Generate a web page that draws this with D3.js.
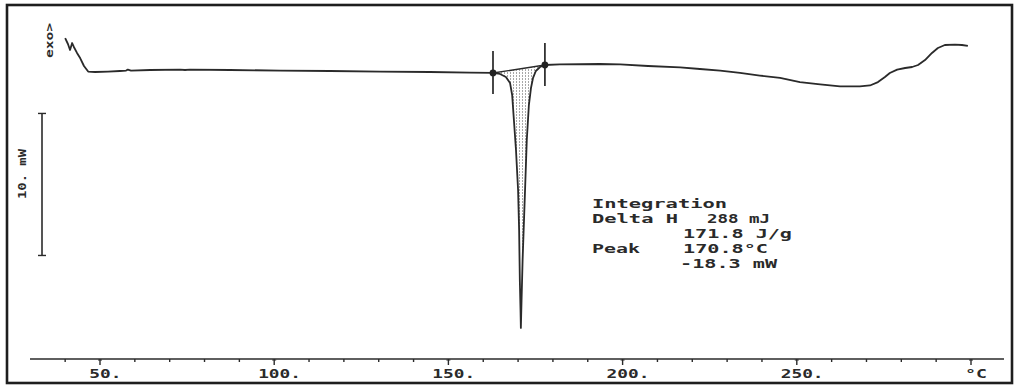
<!DOCTYPE html>
<html>
<head>
<meta charset="utf-8">
<script src="https://cdn.jsdelivr.net/npm/d3@7"></script>
<style>
  html, body { margin: 0; padding: 0; background: #fff; }
  svg { display: block; }
</style>
</head>
<body>
<svg id="dsc" width="1016" height="386"></svg>
<script>
// DSC trace: temperature (°C) and heat flow (mW)
const temperature = [
  40.0, 40.8, 41.4, 42.0, 42.5, 43.4, 44.3, 45.4, 46.6, 48.6, 52.3, 55.7, 57.5, 58.0, 58.9,
  64.4, 73.0, 74.4, 75.8, 87.3, 101.7, 116.0, 130.4, 144.7, 156.2,
  162.8, 164.8, 166.5, 167.7, 168.3, 168.8, 169.4, 170.0, 170.3, 170.5, 170.7, 170.8,
  171.0, 171.3, 171.7, 172.1, 172.5, 173.1, 173.7, 174.3, 175.1, 176.3, 177.7,
  182.0, 193.5, 199.3, 207.3, 216.5, 222.2, 228.0, 233.7, 239.4, 245.2, 250.9, 256.7,
  262.4, 268.1, 271.0, 273.3, 275.3, 276.7, 278.8, 281.1, 283.1, 284.8, 286.8, 288.8,
  290.5, 292.5, 295.4, 297.4, 299.1
];
const heatFlow = [
  2.11, 1.69, 1.27, 1.76, 1.48, 1.06, 0.70, 0.14, -0.25, -0.28, -0.25, -0.21, -0.18, -0.11, -0.18,
  -0.14, -0.11, -0.14, -0.11, -0.14, -0.18, -0.21, -0.25, -0.28, -0.32,
  -0.35, -0.42, -0.63, -1.06, -1.90, -3.66, -5.77, -8.59, -11.41, -14.93, -17.04, -18.3,
  -16.34, -13.52, -10.70, -7.89, -5.07, -2.61, -1.41, -0.70, -0.21, 0.07, 0.21,
  0.25, 0.28, 0.25, 0.14, 0.04, -0.07, -0.18, -0.35, -0.53, -0.70, -0.99, -1.16,
  -1.30, -1.30, -1.23, -0.99, -0.63, -0.35, -0.11, 0.00, 0.07, 0.21, 0.56, 1.06,
  1.41, 1.62, 1.65, 1.62, 1.55
];

// integration limits (°C) and their baseline heat flow (mW)
const integrationT = [162.8, 177.7];
const integrationMW = [-0.35, 0.21];

// axis ticks
const majorTicks = [50, 100, 150, 200, 250];
const majorLabels = ["50.", "100.", "150.", "200.", "250."];
const minorTicks = [40, 60, 70, 80, 90, 110, 120, 130, 140, 160, 170, 180, 190,
                    210, 220, 230, 240, 260, 270, 280, 290];
const unitTick = 300;

// 10 mW scale bar
const scaleBarMW = [-3.2, -13.2];

// result block
const resultLines = [
  { parts: [{ t: "Integration", x: 592, w: 135 }] },
  { parts: [{ t: "Delta H", x: 592, w: 86 }, { t: "288 mJ", x: 707, w: 63 }] },
  { parts: [{ t: "171.8 J/g", x: 683, w: 109 }] },
  { parts: [{ t: "Peak", x: 592, w: 48 }, { t: "170.8°C", x: 683, w: 85 }] },
  { parts: [{ t: "-18.3 mW", x: 680, w: 97 }] }
];

const svg = d3.select("#dsc");
const ink = "#2a2a2a";
const mono = "'DejaVu Sans Mono', 'Liberation Mono', monospace";

const x = d3.scaleLinear().domain([50, 300]).range([100, 971]);
const y = d3.scaleLinear().domain([0, -18.3]).range([68, 327.9]);

// outer frame
svg.append("rect")
  .attr("x", 7).attr("y", 5).attr("width", 1005).attr("height", 378)
  .attr("fill", "none").attr("stroke", "#1e1e1e").attr("stroke-width", 2.6);

// temperature axis
const axisY = 359;
svg.append("line")
  .attr("x1", 30).attr("x2", 1004).attr("y1", axisY).attr("y2", axisY)
  .attr("stroke", ink).attr("stroke-width", 1.6);

svg.selectAll(".minor").data(minorTicks).enter().append("line")
  .attr("x1", d => x(d)).attr("x2", d => x(d))
  .attr("y1", axisY).attr("y2", axisY + 3)
  .attr("stroke", ink).attr("stroke-width", 1.4);

svg.selectAll(".major").data(majorTicks.concat([unitTick])).enter().append("g")
  .each(function (d) {
    const g = d3.select(this);
    g.append("line")
      .attr("x1", x(d)).attr("x2", x(d))
      .attr("y1", axisY).attr("y2", axisY + 6)
      .attr("stroke", ink).attr("stroke-width", 1.4);
    g.append("line")
      .attr("x1", x(d) - 2).attr("x2", x(d) + 2)
      .attr("y1", axisY + 1).attr("y2", axisY + 1)
      .attr("stroke", ink).attr("stroke-width", 1);
  });

const charW = 10.7;
svg.selectAll(".tlabel").data(majorTicks).enter().append("text")
  .attr("x", (d, i) => x(d) - (majorLabels[i].length - 1) * charW / 2)
  .attr("y", 378)
  .attr("textLength", (d, i) => majorLabels[i].length * charW)
  .attr("lengthAdjust", "spacingAndGlyphs")
  .attr("font-family", mono).attr("font-weight", "bold").attr("font-size", 11.5)
  .attr("fill", ink)
  .text((d, i) => majorLabels[i]);

svg.append("text")
  .attr("x", x(unitTick) - 6).attr("y", 378)
  .attr("textLength", 22).attr("lengthAdjust", "spacingAndGlyphs")
  .attr("font-family", mono).attr("font-weight", "bold").attr("font-size", 11.5)
  .attr("fill", ink).text("°C");

// exo direction label
svg.append("text")
  .attr("transform", "translate(53,58) rotate(-90)")
  .attr("textLength", 35).attr("lengthAdjust", "spacingAndGlyphs")
  .attr("font-family", mono).attr("font-weight", "bold").attr("font-size", 10)
  .attr("fill", ink).text("exo>");

// 10 mW scale bar
const barX = 42;
svg.append("line")
  .attr("x1", barX).attr("x2", barX)
  .attr("y1", y(scaleBarMW[0])).attr("y2", y(scaleBarMW[1]))
  .attr("stroke", "#555").attr("stroke-width", 2);
scaleBarMW.forEach(v => {
  svg.append("line")
    .attr("x1", barX - 4).attr("x2", barX + 4)
    .attr("y1", y(v)).attr("y2", y(v))
    .attr("stroke", ink).attr("stroke-width", 1.4);
});
svg.append("text")
  .attr("transform", "translate(26,199) rotate(-90)")
  .attr("textLength", 50).attr("lengthAdjust", "spacingAndGlyphs")
  .attr("font-family", mono).attr("font-weight", "bold").attr("font-size", 10)
  .attr("fill", ink).text("10. mW");

// integrated peak area (hatched)
const defs = svg.append("defs");
const pat = defs.append("pattern")
  .attr("id", "hatch").attr("patternUnits", "userSpaceOnUse")
  .attr("width", 3).attr("height", 3);
pat.append("rect").attr("x", 0).attr("y", 0).attr("width", 1).attr("height", 2)
  .attr("fill", "#a8a8a8");

const pts = temperature.map((t, i) => [t, heatFlow[i]]);
const peakPts = pts.filter(p => p[0] >= integrationT[0] && p[0] <= integrationT[1]);
const baseAt = t => integrationMW[0] +
  (integrationMW[1] - integrationMW[0]) * (t - integrationT[0]) / (integrationT[1] - integrationT[0]);

svg.append("path")
  .datum(peakPts)
  .attr("d", d3.area()
    .x(d => x(d[0]))
    .y0(d => y(baseAt(d[0])))
    .y1(d => y(d[1])))
  .attr("fill", "url(#hatch)");

// integration baseline
svg.append("line")
  .attr("x1", x(integrationT[0])).attr("y1", y(integrationMW[0]))
  .attr("x2", x(integrationT[1])).attr("y2", y(integrationMW[1]))
  .attr("stroke", ink).attr("stroke-width", 1.4);

// DSC curve
svg.append("path")
  .datum(pts)
  .attr("d", d3.line().x(d => x(d[0])).y(d => y(d[1])))
  .attr("fill", "none").attr("stroke", ink).attr("stroke-width", 1.8)
  .attr("stroke-linejoin", "round");

// integration limit markers
integrationT.forEach((t, i) => {
  const cx = x(t), cy = y(integrationMW[i]);
  svg.append("line")
    .attr("x1", cx).attr("x2", cx).attr("y1", cy - 22).attr("y2", cy + 21)
    .attr("stroke", "#333").attr("stroke-width", 1.8);
  svg.append("circle")
    .attr("cx", cx).attr("cy", cy).attr("r", 3.4)
    .attr("fill", "#222");
});

// result text
const rowBase = [208, 223, 238, 253, 268];
resultLines.forEach((row, r) => {
  row.parts.forEach(p => {
    svg.append("text")
      .attr("x", p.x).attr("y", rowBase[r])
      .attr("textLength", p.w).attr("lengthAdjust", "spacingAndGlyphs")
      .attr("font-family", mono).attr("font-weight", "bold").attr("font-size", 12)
      .attr("fill", ink).text(p.t);
  });
});
</script>
</body>
</html>
